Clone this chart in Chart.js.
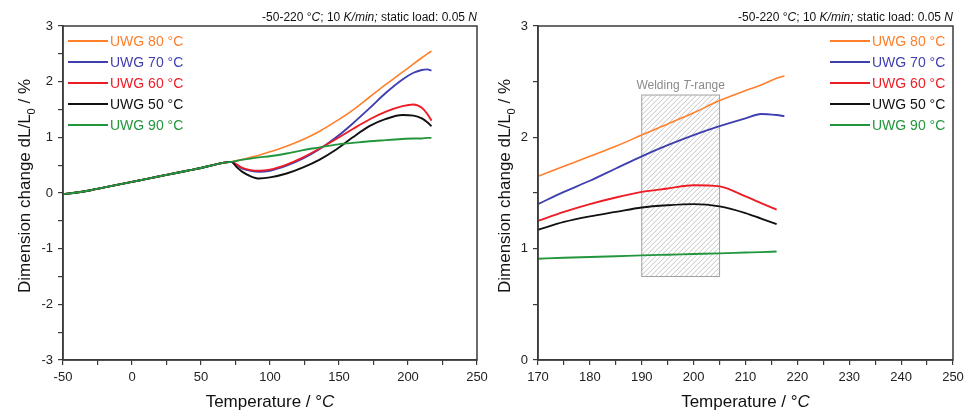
<!DOCTYPE html>
<html>
<head>
<meta charset="utf-8">
<script src="https://cdn.jsdelivr.net/npm/chart.js@4"></script>
<style>
  body { margin: 0; background: #fff; }
  #wrap { position: relative; width: 964px; height: 411px; }
  canvas { position: absolute; top: 0; }
</style>
</head>
<body>
<div id="wrap">
  <canvas id="links" width="500" height="411" style="left:0"></canvas>
  <canvas id="rechts" width="482" height="411" style="left:482px"></canvas>
</div>
<script>
// Übersicht -50..220 °C
const tempOverview = [-50, -40, -30, -20, -10, 0, 10, 20, 30, 40, 50, 60, 68, 72,
  76, 80, 86, 92, 100, 112, 124, 136, 148, 160, 172, 184, 196, 204, 210, 214, 217];
const uwg80 = [-0.02, 0.01, 0.05, 0.10, 0.15, 0.20, 0.25, 0.30, 0.35, 0.40, 0.45, 0.51, 0.55, 0.56,
  0.58, 0.60, 0.64, 0.68, 0.74, 0.84, 0.96, 1.11, 1.29, 1.49, 1.72, 1.95, 2.17, 2.32, 2.43, 2.50, 2.55];
const uwg70 = [-0.02, 0.01, 0.05, 0.10, 0.15, 0.20, 0.25, 0.30, 0.35, 0.40, 0.45, 0.51, 0.55, 0.56,
  0.50, 0.44, 0.40, 0.38, 0.40, 0.49, 0.62, 0.79, 1.00, 1.25, 1.52, 1.80, 2.04, 2.16, 2.21, 2.22, 2.20];
const uwg60 = [-0.02, 0.01, 0.05, 0.10, 0.15, 0.20, 0.25, 0.30, 0.35, 0.40, 0.45, 0.51, 0.55, 0.56,
  0.51, 0.45, 0.41, 0.40, 0.42, 0.51, 0.64, 0.80, 0.97, 1.15, 1.32, 1.46, 1.56, 1.59, 1.53, 1.42, 1.30];
const uwg50 = [-0.02, 0.01, 0.05, 0.10, 0.15, 0.20, 0.25, 0.30, 0.35, 0.40, 0.45, 0.51, 0.55, 0.56,
  0.46, 0.38, 0.30, 0.26, 0.28, 0.35, 0.46, 0.60, 0.78, 1.00, 1.20, 1.33, 1.40, 1.39, 1.34, 1.27, 1.20];
const uwg90 = [-0.02, 0.01, 0.05, 0.10, 0.15, 0.20, 0.25, 0.30, 0.35, 0.40, 0.45, 0.51, 0.55, 0.56,
  0.58, 0.60, 0.62, 0.64, 0.66, 0.71, 0.77, 0.82, 0.87, 0.90, 0.93, 0.95, 0.97, 0.98, 0.98, 0.99, 0.99];

// Ausschnitt 170..220 °C
const tempDetail = [170, 175, 180, 185, 190, 195, 200, 205, 210, 213, 216, 217.5];
const det80 = [1.65, 1.74, 1.83, 1.92, 2.02, 2.12, 2.22, 2.33, 2.42, 2.47, 2.53, 2.55];
const det70 = [1.40, 1.51, 1.61, 1.72, 1.83, 1.93, 2.02, 2.10, 2.17, 2.21, 2.20, 2.19];
const det60 = [1.25, 1.33, 1.40, 1.46, 1.51, 1.54, 1.57, 1.56, 1.47, 1.41, 1.35, null];
const det50 = [1.17, 1.24, 1.29, 1.33, 1.37, 1.39, 1.40, 1.38, 1.32, 1.27, 1.22, null];
const det90 = [0.91, 0.918, 0.925, 0.932, 0.94, 0.946, 0.952, 0.958, 0.965, 0.969, 0.975, null];

const serienNamen = ['UWG 80 °C', 'UWG 70 °C', 'UWG 60 °C', 'UWG 50 °C', 'UWG 90 °C'];
const weldingRange = [190, 205];
const weldingBand = [0.75, 2.38];

const farben = ['#FF7F2A', '#3F3FB0', '#EE1C25', '#111111', '#22963C'];
const FONT = "'Liberation Sans', Arial, sans-serif";

function fontFor(style, size) {
  if (style === 'i') return 'italic ' + size + 'px ' + FONT;
  if (style === 'sub') return Math.round(size * 0.65) + 'px ' + FONT;
  return size + 'px ' + FONT;
}

// Text mit kursiven Teilen / Index
function drawRich(ctx, parts, x, y, align, size) {
  let w = 0;
  parts.forEach(p => { ctx.font = fontFor(p[1], size); w += ctx.measureText(p[0]).width; });
  let cx = align === 'right' ? x - w : align === 'center' ? x - w / 2 : x;
  ctx.textAlign = 'left';
  ctx.textBaseline = 'alphabetic';
  parts.forEach(p => {
    ctx.font = fontFor(p[1], size);
    ctx.fillText(p[0], cx, y + (p[1] === 'sub' ? size * 0.28 : 0));
    cx += ctx.measureText(p[0]).width;
  });
}

const deko = {
  id: 'deko',
  beforeDatasetsDraw(chart, args, opts) {
    if (!opts.welding) return;
    const { ctx, scales: { x, y } } = chart;
    const x0 = x.getPixelForValue(weldingRange[0]);
    const x1 = x.getPixelForValue(weldingRange[1]);
    const y0 = y.getPixelForValue(weldingBand[1]);
    const y1 = y.getPixelForValue(weldingBand[0]);
    const h = y1 - y0;
    ctx.save();
    ctx.beginPath();
    ctx.rect(x0, y0, x1 - x0, h);
    ctx.clip();
    ctx.strokeStyle = '#bdbdbd';
    ctx.lineWidth = 0.9;
    for (let k = -h; k < x1 - x0; k += 5) {
      ctx.beginPath();
      ctx.moveTo(x0 + k, y1);
      ctx.lineTo(x0 + k + h, y0);
      ctx.stroke();
    }
    ctx.restore();
    ctx.save();
    ctx.strokeStyle = '#a0a0a0';
    ctx.lineWidth = 1;
    ctx.strokeRect(x0, y0, x1 - x0, h);
    ctx.fillStyle = '#8a8a8a';
    drawRich(ctx, [['Welding ', ''], ['T', 'i'], ['-range', '']], (x0 + x1) / 2, y0 - 6, 'center', 12);
    ctx.restore();
  },
  afterDraw(chart, args, opts) {
    const { ctx, chartArea: a } = chart;
    ctx.save();
    // Rahmen
    ctx.strokeStyle = '#3a3a3a';
    ctx.lineWidth = 1.5;
    ctx.strokeRect(a.left, a.top, a.right - a.left, a.bottom - a.top);

    // Messbedingungen
    ctx.fillStyle = '#111';
    drawRich(ctx, [['-50-220 °', ''], ['C', 'i'], ['; 10 ', ''], ['K/min;', 'i'],
      [' static load: 0.05 ', ''], ['N', 'i']], a.right, 21, 'right', 12);

    // Legende
    serienNamen.forEach((name, i) => {
      const yy = 41 + i * 21;
      const lx = a.left + opts.legendX;
      ctx.strokeStyle = farben[i];
      ctx.lineWidth = 2;
      ctx.beginPath();
      ctx.moveTo(lx, yy);
      ctx.lineTo(lx + 40, yy);
      ctx.stroke();
      ctx.fillStyle = farben[i];
      ctx.font = '14px ' + FONT;
      ctx.textAlign = 'left';
      ctx.textBaseline = 'middle';
      ctx.fillText(name, lx + 42, yy + 1);
    });

    // Achsentitel
    ctx.fillStyle = '#111';
    drawRich(ctx, [['Temperature / °', ''], ['C', 'i']], (a.left + a.right) / 2, 407, 'center', 17);
    ctx.translate(opts.yTitleX, 186);
    ctx.rotate(-Math.PI / 2);
    drawRich(ctx, [['Dimension change dL/L', ''], ['0', 'sub'], [' / %', '']], 0, 0, 'center', 17);
    ctx.restore();
  }
};

function reihe(xs, ys) {
  return xs.map((t, i) => ({ x: t, y: ys[i] }));
}

function datensaetze(xs, reihen) {
  const ordnung = [4, 3, 2, 1, 0];
  return reihen.map((ys, i) => ({
    label: serienNamen[i],
    data: reihe(xs, ys),
    borderColor: farben[i],
    borderWidth: i === 0 ? 1.6 : 1.9,
    pointRadius: 0,
    cubicInterpolationMode: 'monotone',
    spanGaps: false,
    order: ordnung[i]
  }));
}

function achse(min, max, step, major, fit) {
  return {
    type: 'linear',
    min: min,
    max: max,
    afterFit: fit,
    ticks: {
      stepSize: step,
      autoSkip: false,
      maxRotation: 0,
      padding: 5,
      color: '#222',
      font: { family: FONT, size: 13 },
      callback: v => (Math.abs(v / major - Math.round(v / major)) < 1e-6 ? v : '')
    },
    grid: { drawOnChartArea: false, drawTicks: true, tickLength: 5, color: '#3a3a3a', lineWidth: 1.2 },
    border: { display: true, color: '#3a3a3a', width: 1.5 }
  };
}

function zeichne(id, xs, reihen, xAchse, yAchse, yBreite, padRechts, pluginOpts) {
  new Chart(document.getElementById(id), {
    type: 'line',
    data: { datasets: datensaetze(xs, reihen) },
    options: {
      responsive: false,
      animation: false,
      layout: { padding: { top: 26, right: padRechts, left: 0, bottom: 0 } },
      scales: {
        x: achse(xAchse[0], xAchse[1], xAchse[2], xAchse[3], s => {
          s.height = 51;
          s.paddingLeft = 0;
          s.paddingRight = 0;
        }),
        y: achse(yAchse[0], yAchse[1], yAchse[2], yAchse[3], s => { s.width = yBreite; })
      },
      plugins: {
        legend: { display: false },
        tooltip: { enabled: false },
        deko: pluginOpts
      }
    },
    plugins: [deko]
  });
}

zeichne('links', tempOverview, [uwg80, uwg70, uwg60, uwg50, uwg90],
  [-50, 250, 25, 50], [-3, 3, 0.5, 1], 63, 23,
  { legendX: 5, yTitleX: 30, welding: false });

zeichne('rechts', tempDetail, [det80, det70, det60, det50, det90],
  [170, 250, 5, 10], [0, 3, 0.5, 1], 56, 11,
  { legendX: 292, yTitleX: 28, welding: true });
</script>
</body>
</html>
